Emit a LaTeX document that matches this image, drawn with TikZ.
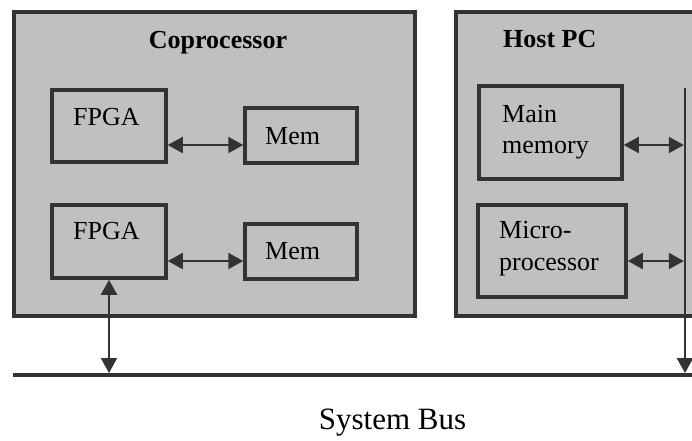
\documentclass[tikz,border=0pt]{standalone}
\usepackage{fontspec}
\setmainfont{Liberation Serif}
\usetikzlibrary{arrows.meta}
\definecolor{boxgray}{HTML}{C0C0C0}
\definecolor{edge}{HTML}{333333}
\begin{document}
\begin{tikzpicture}[x=1pt,y=-1pt,
  panel/.style={draw=edge,fill=boxgray,line width=3.5pt,inner sep=0pt},
  unit/.style={draw=edge,fill=boxgray,line width=3.5pt,inner sep=0pt},
  txt/.style={inner sep=0pt,text=black,font=\fontsize{26}{31}\selectfont},
  ttl/.style={inner sep=0pt,text=black,font=\fontsize{26}{31}\selectfont\bfseries},
  link/.style={draw=edge,line width=2pt,{Triangle[length=15pt,width=16pt]}-{Triangle[length=15pt,width=16pt]}},
  feed/.style={draw=edge,line width=2.5pt,-{Triangle[length=15pt,width=16pt]}},
  busline/.style={draw=edge,line width=4pt}
]
\useasboundingbox (0,0) rectangle (692,440);
\clip (0,0) rectangle (692,440);
\fill[white] (0,0) rectangle (692,440);
% panels
\node[panel,minimum width=401pt,minimum height=304pt] (cop) at (214.5,164) {};
\node[panel,minimum width=264pt,minimum height=304pt] (host) at (588,164) {};
% units
\node[unit,minimum width=114pt,minimum height=72pt] (f1) at (109,126) {};
\node[unit,minimum width=112pt,minimum height=55pt] (m1) at (301,135.5) {};
\node[unit,minimum width=114pt,minimum height=73pt] (f2) at (109,241.5) {};
\node[unit,minimum width=112pt,minimum height=55pt] (m2) at (301,251.5) {};
\node[unit,minimum width=143pt,minimum height=93pt] (mm) at (550.5,132.5) {};
\node[unit,minimum width=148pt,minimum height=92pt] (mp) at (552,251) {};
% texts
\node[ttl,anchor=base] (tcop) at (218,48) {Coprocessor};
\node[ttl,anchor=base west] (thost) at (503,47) {Host PC};
\node[txt,anchor=base west] (tf1) at (73,125) {FPGA};
\node[txt,anchor=base west] (tf2) at (73,239) {FPGA};
\node[txt,anchor=base west] (tm1) at (265,144) {Mem};
\node[txt,anchor=base west] (tm2) at (265,259) {Mem};
\node[txt,anchor=base west] (tmm1) at (502,122) {Main};
\node[txt,anchor=base west] (tmm2) at (502,153) {memory};
\node[txt,anchor=base west] (tmp1) at (499,238) {Micro-};
\node[txt,anchor=base west] (tmp2) at (499,270) {processor};
\node[inner sep=0pt,text=black,font=\fontsize{31}{37}\selectfont,anchor=base] (tbus) at (392.5,429) {System Bus};
% reference coordinates
\coordinate (ya) at (0,145);
\coordinate (yb) at (0,261);
\coordinate (busL) at (13,375);
\coordinate (busR) at (700,375);
\coordinate (bustop) at (0,373);
\coordinate (hbt) at (685,88);
\coordinate (hbb) at (685,373);
% bus
\draw[busline] (busL) -- (busR);
% host internal line
\draw[feed] (hbt) -- (hbb);
% links
\draw[link] (f1.east |- ya) -- (m1.west |- ya);
\draw[link] (f2.east |- yb) -- (m2.west |- yb);
\draw[link,shorten >=1.2pt] (mm.east |- ya) -- (hbt |- ya);
\draw[link,shorten >=1.2pt] (mp.east |- yb) -- (hbt |- yb);
\draw[link] (f2.south) -- (f2.south |- bustop);
\end{tikzpicture}
\end{document}
